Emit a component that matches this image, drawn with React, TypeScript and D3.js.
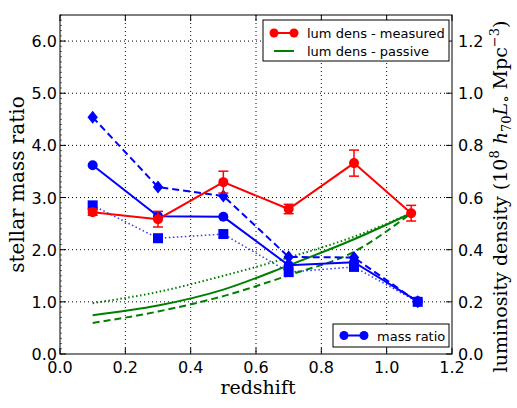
import React from "react";
import * as d3 from "d3";

const zBins = [0.1, 0.3, 0.5, 0.7, 0.9];
const zRedLast = 1.075;
const zBlueLast = 1.095;

const massSolid = [3.62, 2.64, 2.63, 1.7, 1.76, 1.01];
const massDashed = [4.54, 3.2, 3.03, 1.86, 1.85, 1.0];
const massDotted = [2.85, 2.22, 2.3, 1.57, 1.67, 1.0];

const lumMeasured = [0.544, 0.517, 0.659, 0.556, 0.732, 0.54];
const lumErr = [0.012, 0.03, 0.042, 0.018, 0.05, 0.03];

const lumPassive = [0.149, 0.186, 0.247, 0.34, 0.44, 0.54];
const lumPassiveLow = [0.119, 0.163, 0.222, 0.302, 0.392, 0.54];
const lumPassiveHigh = [0.195, 0.238, 0.3, 0.37, 0.45, 0.54];

const xTicks = [0, 0.2, 0.4, 0.6, 0.8, 1.0, 1.2];
const yLeftTicks = [0, 1, 2, 3, 4, 5, 6];
const yRightTicks = [0, 0.2, 0.4, 0.6, 0.8, 1.0, 1.2];

const W = 517, H = 408;
const L = 60, R = 452, T = 15, B = 354;

export default function App() {
  const x = d3.scaleLinear().domain([0, 1.2]).range([L, R]);
  const yL = d3.scaleLinear().domain([0, 6.5]).range([B, T]);
  const yR = d3.scaleLinear().domain([0, 1.3]).range([B, T]);

  const zRed = [...zBins, zRedLast];
  const zBlue = [...zBins, zBlueLast];

  const lineL = d3.line<[number, number]>().x(d => x(d[0])).y(d => yL(d[1]));
  const lineR = d3.line<[number, number]>().x(d => x(d[0])).y(d => yR(d[1]));
  const curveR = d3.line<[number, number]>().x(d => x(d[0])).y(d => yR(d[1])).curve(d3.curveMonotoneX);

  const pts = (zs: number[], vs: number[]) => zs.map((z, i) => [z, vs[i]] as [number, number]);

  const minor = d3.range(0, 6.5001, 0.1);
  const sans = "DejaVu Sans";
  const serif = "DejaVu Serif";

  const diamond = (cx: number, cy: number, s: number) =>
    `M${cx},${cy - s}L${cx + s * 0.8},${cy}L${cx},${cy + s}L${cx - s * 0.8},${cy}Z`;

  return (
    <svg width={W} height={H} style={{ display: "block", position: "absolute", left: 0, top: 0 }}>
      <rect x={0} y={0} width={W} height={H} fill="#fff" />
      {/* grid */}
      <g stroke="#000" strokeWidth={1} strokeDasharray="1,3">
        {xTicks.slice(1, -1).map(t => (
          <line key={"gx" + t} x1={x(t)} x2={x(t)} y1={T} y2={B} />
        ))}
        {yLeftTicks.slice(1).map(t => (
          <line key={"gy" + t} x1={L} x2={R} y1={yL(t)} y2={yL(t)} />
        ))}
      </g>

      {/* green passive curves */}
      <path d={curveR(pts(zRed, lumPassive)) || ""} fill="none" stroke="#008000" strokeWidth={2} />
      <path d={curveR(pts(zRed, lumPassiveLow)) || ""} fill="none" stroke="#008000" strokeWidth={2} strokeDasharray="7,4" />
      <path d={curveR(pts(zRed, lumPassiveHigh)) || ""} fill="none" stroke="#008000" strokeWidth={2} strokeDasharray="1.5,2.5" />

      {/* blue mass ratios */}
      <path d={lineL(pts(zBlue, massDotted)) || ""} fill="none" stroke="#3333ff" strokeWidth={1.5} strokeDasharray="1.5,2.5" />
      <path d={lineL(pts(zBlue, massDashed)) || ""} fill="none" stroke="#0000ff" strokeWidth={2} strokeDasharray="7,4" />
      <path d={lineL(pts(zBlue, massSolid)) || ""} fill="none" stroke="#0000ff" strokeWidth={2} />
      {zBlue.map((z, i) => (
        <rect key={"sq" + i} x={x(z) - 5} y={yL(massDotted[i]) - 5} width={10} height={10} fill="#0000ff" />
      ))}
      {zBlue.map((z, i) => (
        <path key={"dm" + i} d={diamond(x(z), yL(massDashed[i]), 6.5)} fill="#0000ff" />
      ))}
      {zBlue.map((z, i) => (
        <circle key={"bc" + i} cx={x(z)} cy={yL(massSolid[i])} r={5} fill="#0000ff" />
      ))}

      {/* red measured */}
      <path d={lineR(pts(zRed, lumMeasured)) || ""} fill="none" stroke="#ff0000" strokeWidth={2} />
      {zRed.map((z, i) => {
        const cx = x(z);
        const y1 = yR(lumMeasured[i] - lumErr[i]);
        const y2 = yR(lumMeasured[i] + lumErr[i]);
        return (
          <g key={"re" + i} stroke="#ff0000" strokeWidth={1.5}>
            <line x1={cx} x2={cx} y1={y1} y2={y2} />
            <line x1={cx - 5} x2={cx + 5} y1={y1} y2={y1} />
            <line x1={cx - 5} x2={cx + 5} y1={y2} y2={y2} />
          </g>
        );
      })}
      {zRed.map((z, i) => (
        <circle key={"rc" + i} cx={x(z)} cy={yR(lumMeasured[i])} r={5} fill="#ff0000" />
      ))}

      {/* frame */}
      <rect x={L} y={T} width={R - L} height={B - T} fill="none" stroke="#000" strokeWidth={1} />

      {/* ticks */}
      <g stroke="#000" strokeWidth={1}>
        {xTicks.map(t => (
          <g key={"xt" + t}>
            <line x1={x(t)} x2={x(t)} y1={B} y2={B - 6} />
            <line x1={x(t)} x2={x(t)} y1={T} y2={T + 6} />
          </g>
        ))}
        {yLeftTicks.map(t => (
          <line key={"ylt" + t} x1={L} x2={L + 6} y1={yL(t)} y2={yL(t)} />
        ))}
        {minor.map((t, i) => (
          <line key={"ym" + i} x1={L} x2={L + 2} y1={yL(t)} y2={yL(t)} strokeWidth={0.6} />
        ))}
        {yRightTicks.map(t => (
          <line key={"yrt" + t} x1={R} x2={R - 6} y1={yR(t)} y2={yR(t)} />
        ))}
      </g>

      {/* tick labels */}
      <g fontFamily={sans} fontSize={16} fill="#000">
        {xTicks.map(t => (
          <text key={"xl" + t} x={x(t)} y={B + 19} textAnchor="middle">{t.toFixed(1)}</text>
        ))}
        {yLeftTicks.map(t => (
          <text key={"yll" + t} x={L - 3} y={yL(t) + 6} textAnchor="end">{t.toFixed(1)}</text>
        ))}
        {yRightTicks.map(t => (
          <text key={"yrl" + t} x={R + 6} y={yR(t) + 6} textAnchor="start">{t.toFixed(1)}</text>
        ))}
      </g>

      {/* axis labels */}
      <text x={(L + R) / 2 + 2} y={394} textAnchor="middle" fontFamily={serif} fontSize={19}>redshift</text>
      <text transform={`translate(24,${(T + B) / 2}) rotate(-90)`} textAnchor="middle" fontFamily={serif} fontSize={20}>stellar mass ratio</text>
      <text transform={`translate(507,${(T + B) / 2 + 12}) rotate(-90)`} textAnchor="middle" fontFamily={serif} fontSize={19}>
        <tspan>luminosity density (10</tspan>
        <tspan fontSize={13} dy={-8}>8</tspan>
        <tspan dy={8}> </tspan>
        <tspan fontStyle="italic">h</tspan>
        <tspan fontSize={13} dy={4}>70</tspan>
        <tspan dy={-4} fontStyle="italic">L</tspan>
        <tspan fontSize={15} dy={4}>∘</tspan>
        <tspan dy={-4}> Mpc</tspan>
        <tspan fontSize={13} dy={-8}>−3</tspan>
        <tspan dy={8}>)</tspan>
      </text>

      {/* legend top */}
      <g>
        <rect x={263} y={20} width={186} height={41} fill="#fff" stroke="#000" strokeWidth={1} />
        <line x1={274} x2={294} y1={33} y2={33} stroke="#ff0000" strokeWidth={2} />
        <circle cx={274} cy={33} r={4.5} fill="#ff0000" />
        <circle cx={294} cy={33} r={4.5} fill="#ff0000" />
        <text x={307} y={38} fontFamily={sans} fontSize={13}>lum dens - measured</text>
        <line x1={274} x2={294} y1={51} y2={51} stroke="#008000" strokeWidth={2} />
        <text x={307} y={56} fontFamily={sans} fontSize={13}>lum dens - passive</text>
      </g>

      {/* legend bottom */}
      <g>
        <rect x={333} y={324} width={116} height={23} fill="#fff" stroke="#000" strokeWidth={1} />
        <line x1={344} x2={364} y1={335.5} y2={335.5} stroke="#0000ff" strokeWidth={2} />
        <circle cx={344} cy={335.5} r={4.5} fill="#0000ff" />
        <circle cx={364} cy={335.5} r={4.5} fill="#0000ff" />
        <text x={377} y={340.5} fontFamily={sans} fontSize={13}>mass ratio</text>
      </g>
    </svg>
  );
}
